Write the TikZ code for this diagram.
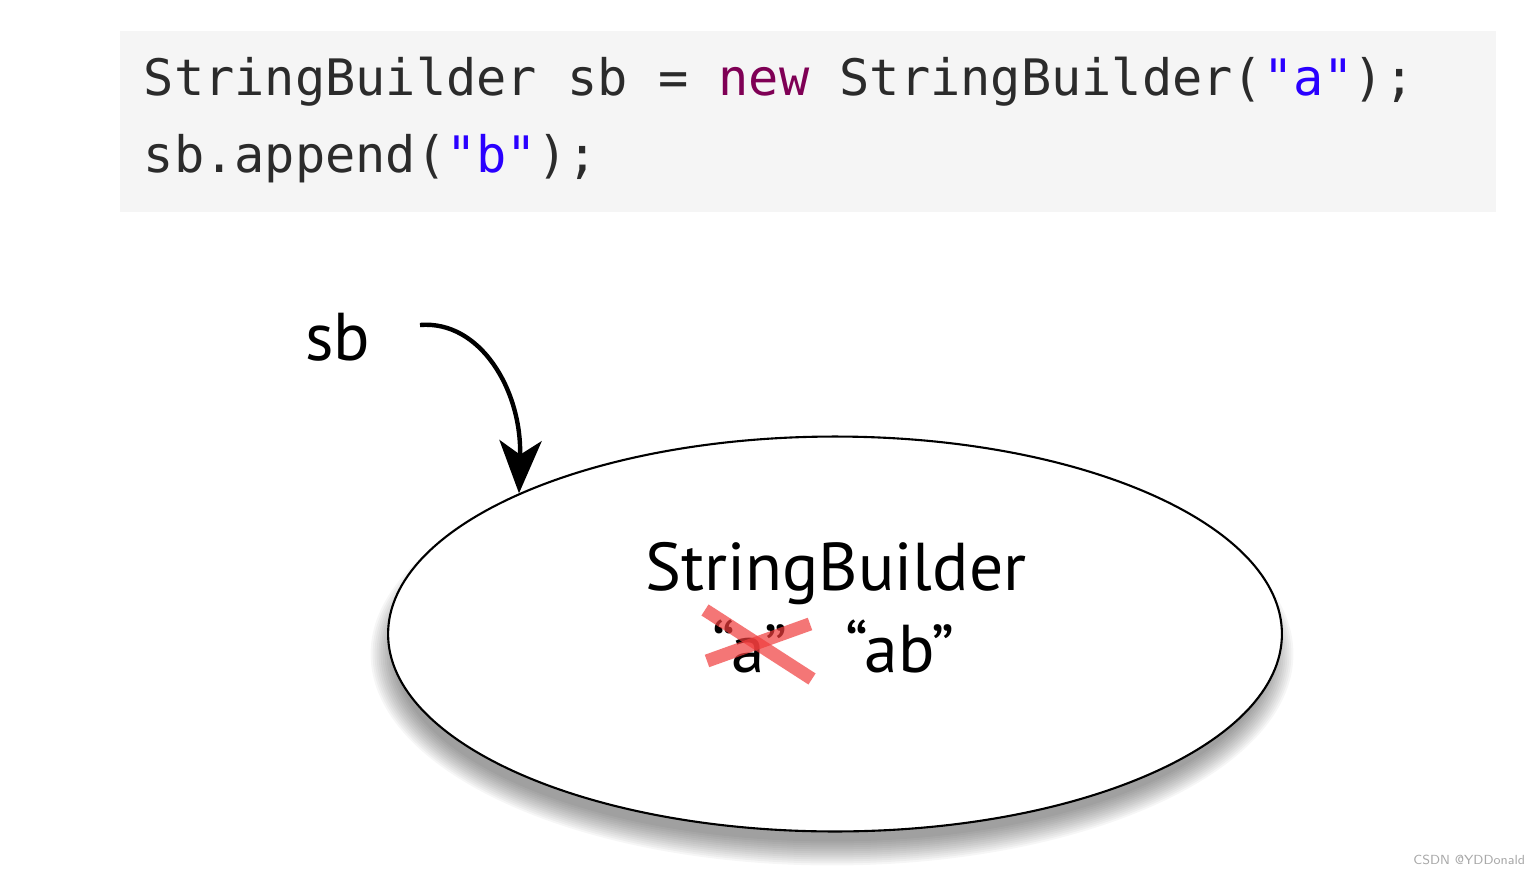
\documentclass[tikz,border=0pt]{standalone}
\usepackage{fontspec}
\setmainfont{PT Sans}
\setmonofont{DejaVu Sans Mono}
\usetikzlibrary{arrows.meta, positioning, shapes.geometric, calc}
\definecolor{cbg}{HTML}{F5F5F5}
\definecolor{ckey}{HTML}{7F0055}
\definecolor{cstr}{HTML}{2A00FF}
\definecolor{ccode}{HTML}{2B2B2B}
\definecolor{ccross}{HTML}{F03C3C}
\definecolor{cmark}{HTML}{A8A8A8}
\tikzset{
  every picture/.style={line width=1pt},
  code/.style={font=\ttfamily\fontsize{28.6}{34}\selectfont, text=ccode, anchor=base west, inner sep=0pt},
  label/.style={font=\fontsize{38.5}{42}\selectfont, inner sep=0pt},
  obj/.style={ellipse, minimum width=17.88cm, minimum height=7.9cm, inner sep=0pt},
  ptr/.style={-{Stealth[length=30pt, width=24pt, inset=8pt]}, line width=2.5pt},
  strike/.style={draw=ccross, opacity=0.7, line width=7.5pt},
}
\begin{document}
\begin{tikzpicture}[x=0.02cm, y=-0.02cm]
  \useasboundingbox (0,0) rectangle (1540,875);
  % code block
  \fill[cbg] (120,31) rectangle (1496,212);
  \node[code] (line1) at (143,95) {StringBuilder sb = \textcolor{ckey}{new} StringBuilder(\textcolor{cstr}{"a"});};
  \node[code] (line2) at (143,172) {sb.append(\textcolor{cstr}{"b"});};
  % soft shadow under the object
  \foreach \k in {0,...,12}
    \node[obj, fill=black, opacity=0.035, minimum width=17.5cm+\k*0.8mm, minimum height=7.5cm+\k*0.8mm] at (832,654) {};
  \node[obj, draw=black, fill=white, line width=1.2pt] (sbobj) at (835,634) {};
  \node[label, anchor=base] (cls) at (836,590) {StringBuilder};
  \node[label, anchor=base] (old) at (750,672) {“a”};
  \node[label, anchor=base] (new) at (900,672) {“ab”};
  \draw[strike] ($(old.center)+(-45,-36)$) -- ($(old.center)+(62,33)$);
  \draw[strike] ($(old.center)+(-43,15)$) -- ($(old.center)+(60,-22)$);
  % reference
  \node[label] (sb) at (338,337) {sb};
  \coordinate (tail) at (420,325);
  \draw[ptr] (tail) .. controls (480,320) and (522,390) .. (sbobj.156);
  \node[font=\fontsize{7.5}{8}\selectfont\sffamily, text=cmark, anchor=base east, inner sep=0pt] (mark) at (1526,864) {CSDN @YDDonald};
\end{tikzpicture}
\end{document}
